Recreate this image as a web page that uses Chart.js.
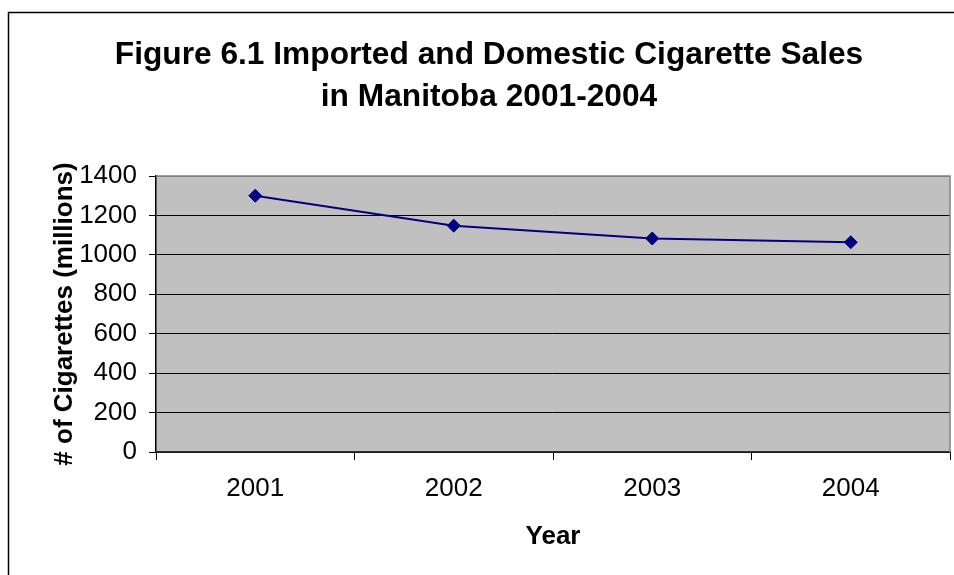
<!DOCTYPE html>
<html>
<head>
<meta charset="utf-8">
<script src="https://cdn.jsdelivr.net/npm/chart.js@4"></script>
<style>
  html, body { margin: 0; padding: 0; background: #ffffff; }
  #wrap { width: 954px; height: 575px; }
</style>
</head>
<body>
<div id="wrap"><canvas id="salesChart" width="954" height="575"></canvas></div>
<script>
// Data
const YEARS = ["2001", "2002", "2003", "2004"];
const SALES = [1300, 1148, 1083, 1064];
const Y_TICKS = [0, 200, 400, 600, 800, 1000, 1200, 1400];
const TITLE_LINES = ["Figure 6.1 Imported and Domestic Cigarette Sales", "in Manitoba 2001-2004"];
const X_TITLE = "Year";
const Y_TITLE = "# of Cigarettes (millions)";

const FONT = "Arial, 'Liberation Sans', sans-serif";

// draws the outer frame, gray plot area and title
const excelLook = {
  id: "excelLook",
  beforeDraw: (chart) => {
    const ctx = chart.ctx;
    const area = chart.chartArea;
    ctx.save();
    ctx.fillStyle = "#ffffff";
    ctx.fillRect(0, 0, chart.width, chart.height);
    ctx.strokeStyle = "#000000";
    ctx.lineWidth = 1.5;
    ctx.strokeRect(8.5, 12.5, chart.width + 20, chart.height + 20);
    ctx.fillStyle = "#c0c0c0";
    ctx.fillRect(area.left, area.top, area.right - area.left, area.bottom - area.top);
    ctx.restore();
  },
  afterDraw: (chart) => {
    const ctx = chart.ctx;
    const area = chart.chartArea;
    ctx.save();
    ctx.strokeStyle = "#808080";
    ctx.lineWidth = 1.5;
    ctx.beginPath();
    ctx.moveTo(area.left, area.top);
    ctx.lineTo(area.right, area.top);
    ctx.lineTo(area.right, area.bottom);
    ctx.stroke();
    ctx.fillStyle = "#000000";
    ctx.font = "bold 31.7px " + FONT;
    ctx.textAlign = "center";
    ctx.textBaseline = "middle";
    TITLE_LINES.forEach((line, i) => {
      ctx.fillText(line, 489, 55 + i * 42);
    });
    ctx.restore();
  }
};

const setup = () => {
  const chartElement = document.getElementById("salesChart").getContext("2d");
  new Chart(chartElement, {
    type: "line",
    data: {
      labels: YEARS,
      datasets: [{
        data: SALES,
        borderColor: "#000080",
        backgroundColor: "#000080",
        borderWidth: 2,
        pointStyle: "rectRot",
        pointRadius: 6.5,
        pointBorderWidth: 1,
        tension: 0
      }]
    },
    options: {
      responsive: false,
      animation: false,
      layout: {
        autoPadding: false,
        padding: { top: 176, right: 4, left: 0, bottom: 0 }
      },
      plugins: {
        legend: { display: false },
        tooltip: { enabled: false }
      },
      scales: {
        x: {
          offset: true,
          afterFit: (scale) => {
            scale.height = 123;
            scale.paddingLeft = 0;
            scale.paddingRight = 0;
          },
          grid: {
            offset: true,
            drawOnChartArea: false,
            tickLength: 8,
            tickColor: "#000000"
          },
          border: { color: "#303030", width: 1.5 },
          ticks: {
            color: "#000000",
            padding: 13,
            font: { family: FONT, size: 26 }
          },
          title: {
            display: true,
            text: X_TITLE,
            color: "#000000",
            padding: { top: 0, bottom: 23 },
            font: { family: FONT, size: 26, weight: "bold" }
          }
        },
        y: {
          min: 0,
          max: 1400,
          afterFit: (scale) => { scale.width = 156; },
          afterBuildTicks: (scale) => {
            scale.ticks = Y_TICKS.map((v) => ({ value: v }));
          },
          grid: {
            color: (c) => (c.tick && c.tick.value === 1400 ? "#808080" : "#000000"),
            lineWidth: 1,
            tickLength: 7,
            tickColor: "#000000"
          },
          border: { color: "#000000", width: 1.5 },
          ticks: {
            color: "#000000",
            padding: 12,
            font: { family: FONT, size: 26 },
            callback: (value) => String(value)
          },
          title: {
            display: true,
            text: Y_TITLE,
            color: "#000000",
            padding: { top: 49, bottom: 0 },
            font: { family: FONT, size: 26, weight: "bold" }
          }
        }
      }
    },
    plugins: [excelLook]
  });
};

window.addEventListener("load", setup);
</script>
</body>
</html>
